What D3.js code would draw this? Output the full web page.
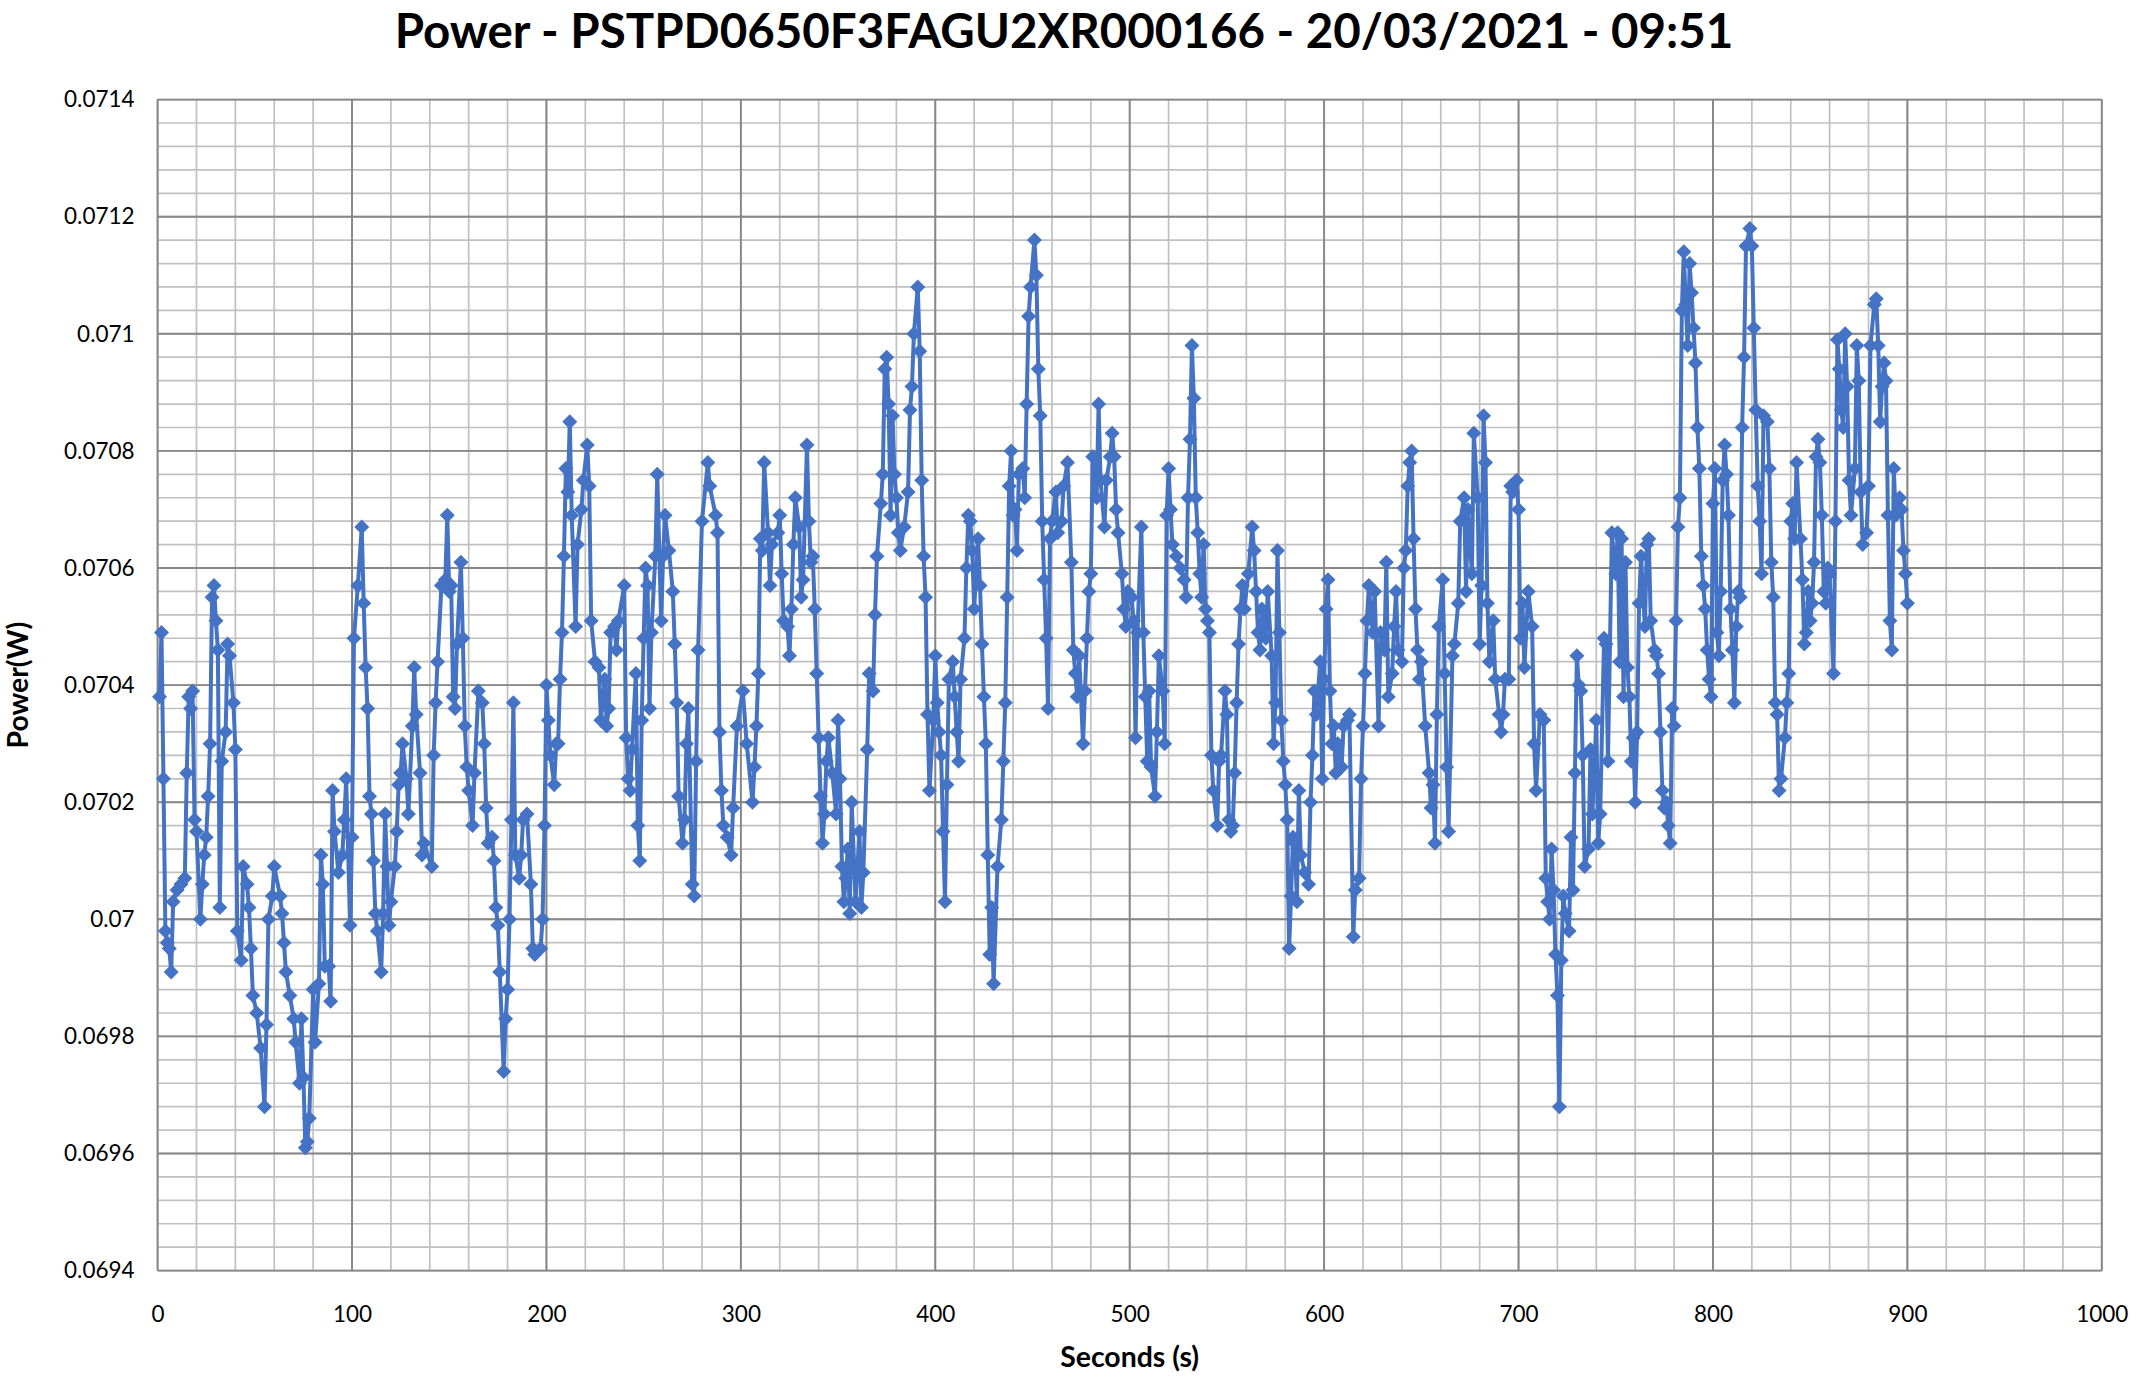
<!DOCTYPE html>
<html><head><meta charset="utf-8">
<script src="https://cdn.jsdelivr.net/npm/d3@7"></script>
<style>html,body{margin:0;padding:0;background:#fff}svg{display:block}</style>
</head><body>
<svg id="chart" width="2140" height="1377"></svg>
<script>
const chartTitle = "Power - PSTPD0650F3FAGU2XR000166 - 20/03/2021 - 09:51";
const xAxisTitle = "Seconds (s)";
const yAxisTitle = "Power(W)";
const xTickValues = [0,100,200,300,400,500,600,700,800,900,1000];
const yTickValues = [0.0694,0.0696,0.0698,0.07,0.0702,0.0704,0.0706,0.0708,0.071,0.0712,0.0714];

const seconds = [1,2,3,4,5,6,7,8,10,12,14,15,16,17,18,19,20,22,23,24,25,26,27,28,29,30,31,32,33,35,36,37,39,40,41,43,44,46,47,48,49,51,53,55,56,57,59,60,63,64,65,66,68,70,71,73,74,75,76,77,78,80,81,83,84,85,86,88,89,90,91,93,95,96,97,99,100,
101,103,105,106,107,108,109,110,111,112,113,115,116,117,118,119,120,122,123,124,125,126,128,129,131,132,133,135,136,137,141,142,143,144,146,148,149,150,151,152,153,154,156,157,158,159,160,162,163,165,167,168,169,170,172,173,174,175,176,178,179,180,181,182,183,184,186,187,188,190,192,193,194,197,198,199,200,
201,202,204,205,206,207,208,209,210,211,212,213,215,216,218,219,221,222,223,225,227,228,230,231,232,233,235,236,237,240,241,242,243,244,246,247,248,249,250,251,252,253,254,256,257,259,260,261,263,265,266,267,268,270,271,272,273,275,276,277,278,280,283,284,287,288,289,290,291,293,295,296,298,
301,303,306,307,308,309,310,311,312,314,315,316,319,320,321,322,324,325,326,327,328,330,331,332,334,335,336,337,338,339,340,341,342,343,344,345,347,349,350,351,352,353,354,355,356,357,359,361,362,363,365,366,368,369,370,372,373,374,375,376,377,378,379,380,381,382,384,386,387,388,389,391,392,393,394,395,396,397,399,400,
401,402,403,404,405,406,407,409,410,411,412,413,415,416,417,418,419,420,422,423,424,425,426,427,428,429,430,432,434,435,436,437,438,439,440,441,442,443,445,446,447,448,449,451,452,453,454,455,456,457,458,459,460,462,463,465,466,468,470,471,472,473,474,476,477,478,479,480,481,483,484,485,487,488,490,491,492,493,494,496,497,498,499,
501,502,503,504,506,507,508,509,510,511,513,514,515,517,518,519,520,521,522,524,526,528,529,530,531,532,533,534,535,536,537,538,539,540,541,542,543,545,546,547,549,550,551,552,553,554,555,556,557,558,559,561,563,564,565,566,567,568,570,571,573,574,575,576,577,578,579,580,581,582,583,584,585,586,587,588,590,592,593,594,595,596,598,599,600,
601,602,603,604,605,606,607,609,610,612,613,615,616,618,619,620,621,622,623,625,626,628,629,631,632,633,635,636,637,638,640,641,642,643,644,645,646,647,648,649,650,652,654,655,656,657,658,659,661,662,663,664,666,667,669,670,672,673,674,676,677,679,680,681,682,683,684,685,687,688,690,691,692,693,695,696,697,699,700,
701,702,703,705,707,708,709,711,713,714,715,716,717,718,719,720,721,722,723,724,726,727,728,729,730,731,732,733,734,736,737,738,740,741,742,744,745,746,748,750,751,752,753,754,755,756,757,758,759,760,761,762,763,765,766,767,768,770,771,772,773,774,775,776,777,778,779,780,781,782,783,784,785,786,787,788,789,790,791,792,793,794,795,796,797,798,799,800,
801,802,803,804,805,806,807,808,809,810,811,812,813,814,815,816,817,819,820,821,822,823,824,825,826,828,829,830,831,832,833,834,835,837,838,839,840,841,842,843,845,846,847,848,849,850,851,852,853,854,855,856,857,858,859,860,862,863,864,865,866,867,868,869,870,871,873,874,875,876,877,879,880,881,883,884,885,886,887,888,889,890,891,892,893,894,896,897,898,899,900];

const power = [0.07038,0.07049,0.07024,0.06998,0.06996,0.06995,0.06991,0.07003,0.07005,0.07006,0.07007,0.07025,0.07038,0.07036,0.07039,0.07017,0.07015,0.07000,0.07006,0.07011,0.07014,0.07021,0.07030,0.07055,0.07057,0.07051,0.07046,0.07002,0.07027,0.07032,0.07047,0.07045,0.07037,0.07029,0.06998,0.06993,0.07009,0.07006,0.07002,0.06995,0.06987,0.06984,0.06978,0.06968,0.06982,0.07000,0.07004,0.07009,0.07004,0.07001,0.06996,0.06991,0.06987,0.06983,0.06979,0.06972,0.06983,0.06973,0.06961,0.06962,0.06966,0.06988,0.06979,0.06989,0.07011,0.07006,0.06992,0.06992,0.06986,0.07022,0.07015,0.07008,0.07011,0.07017,0.07024,0.06999,0.07014,
0.07048,0.07057,0.07067,0.07054,0.07043,0.07036,0.07021,0.07018,0.07010,0.07001,0.06998,0.06991,0.07001,0.07018,0.07009,0.06999,0.07003,0.07009,0.07015,0.07023,0.07025,0.07030,0.07024,0.07018,0.07033,0.07043,0.07035,0.07025,0.07011,0.07013,0.07009,0.07028,0.07037,0.07044,0.07057,0.07058,0.07069,0.07056,0.07057,0.07038,0.07036,0.07047,0.07061,0.07048,0.07033,0.07026,0.07022,0.07016,0.07025,0.07039,0.07037,0.07030,0.07019,0.07013,0.07014,0.07010,0.07002,0.06999,0.06991,0.06974,0.06983,0.06988,0.07000,0.07017,0.07037,0.07011,0.07007,0.07011,0.07017,0.07018,0.07006,0.06995,0.06994,0.06995,0.07000,0.07016,0.07040,
0.07034,0.07028,0.07023,0.07030,0.07030,0.07041,0.07049,0.07062,0.07077,0.07073,0.07085,0.07069,0.07050,0.07064,0.07070,0.07075,0.07081,0.07074,0.07051,0.07044,0.07043,0.07034,0.07041,0.07033,0.07036,0.07049,0.07050,0.07046,0.07051,0.07057,0.07031,0.07024,0.07022,0.07029,0.07042,0.07016,0.07010,0.07034,0.07048,0.07060,0.07057,0.07036,0.07049,0.07062,0.07076,0.07051,0.07062,0.07069,0.07063,0.07056,0.07047,0.07037,0.07021,0.07013,0.07017,0.07030,0.07036,0.07006,0.07004,0.07027,0.07046,0.07068,0.07078,0.07074,0.07069,0.07066,0.07032,0.07022,0.07016,0.07014,0.07011,0.07019,0.07033,
0.07039,0.07030,0.07020,0.07026,0.07033,0.07042,0.07065,0.07063,0.07078,0.07066,0.07057,0.07064,0.07066,0.07069,0.07059,0.07051,0.07050,0.07045,0.07053,0.07064,0.07072,0.07067,0.07055,0.07058,0.07081,0.07068,0.07061,0.07062,0.07053,0.07042,0.07031,0.07021,0.07013,0.07018,0.07027,0.07031,0.07025,0.07018,0.07034,0.07024,0.07009,0.07003,0.07007,0.07012,0.07001,0.07020,0.07003,0.07015,0.07002,0.07008,0.07029,0.07042,0.07039,0.07052,0.07062,0.07071,0.07076,0.07094,0.07096,0.07088,0.07069,0.07086,0.07076,0.07072,0.07066,0.07063,0.07067,0.07073,0.07087,0.07091,0.07100,0.07108,0.07097,0.07075,0.07062,0.07055,0.07035,0.07022,0.07034,0.07045,
0.07037,0.07032,0.07028,0.07015,0.07003,0.07023,0.07041,0.07044,0.07038,0.07032,0.07027,0.07041,0.07048,0.07060,0.07069,0.07068,0.07063,0.07053,0.07065,0.07057,0.07047,0.07038,0.07030,0.07011,0.06994,0.07002,0.06989,0.07009,0.07017,0.07027,0.07037,0.07055,0.07074,0.07080,0.07069,0.07070,0.07063,0.07076,0.07077,0.07072,0.07088,0.07103,0.07108,0.07116,0.07110,0.07094,0.07086,0.07068,0.07058,0.07048,0.07036,0.07065,0.07068,0.07073,0.07066,0.07068,0.07074,0.07078,0.07061,0.07046,0.07042,0.07038,0.07045,0.07030,0.07039,0.07048,0.07056,0.07059,0.07079,0.07072,0.07088,0.07075,0.07067,0.07075,0.07079,0.07083,0.07079,0.07070,0.07066,0.07059,0.07053,0.07050,0.07056,
0.07055,0.07051,0.07031,0.07049,0.07067,0.07049,0.07038,0.07027,0.07039,0.07026,0.07021,0.07032,0.07045,0.07039,0.07030,0.07069,0.07077,0.07070,0.07064,0.07062,0.07060,0.07058,0.07055,0.07072,0.07082,0.07098,0.07089,0.07072,0.07066,0.07059,0.07055,0.07064,0.07053,0.07051,0.07049,0.07028,0.07022,0.07016,0.07027,0.07028,0.07039,0.07035,0.07017,0.07015,0.07016,0.07025,0.07037,0.07047,0.07053,0.07057,0.07053,0.07059,0.07067,0.07063,0.07056,0.07049,0.07046,0.07053,0.07048,0.07056,0.07045,0.07030,0.07037,0.07063,0.07049,0.07034,0.07027,0.07023,0.07017,0.06995,0.07004,0.07014,0.07013,0.07003,0.07022,0.07011,0.07008,0.07006,0.07020,0.07028,0.07039,0.07035,0.07044,0.07024,0.07041,
0.07053,0.07058,0.07039,0.07030,0.07033,0.07025,0.07030,0.07026,0.07033,0.07034,0.07035,0.06997,0.07005,0.07007,0.07024,0.07033,0.07042,0.07051,0.07057,0.07049,0.07056,0.07033,0.07049,0.07046,0.07061,0.07038,0.07042,0.07050,0.07056,0.07046,0.07044,0.07060,0.07063,0.07074,0.07078,0.07080,0.07065,0.07053,0.07046,0.07041,0.07044,0.07033,0.07025,0.07019,0.07023,0.07013,0.07035,0.07050,0.07058,0.07042,0.07026,0.07015,0.07045,0.07047,0.07054,0.07068,0.07072,0.07056,0.07070,0.07059,0.07083,0.07072,0.07047,0.07057,0.07086,0.07078,0.07054,0.07044,0.07051,0.07041,0.07035,0.07032,0.07035,0.07041,0.07041,0.07074,0.07073,0.07075,0.07070,
0.07048,0.07054,0.07043,0.07056,0.07050,0.07030,0.07022,0.07035,0.07034,0.07007,0.07003,0.07000,0.07012,0.07005,0.06994,0.06987,0.06968,0.06993,0.07004,0.07001,0.06998,0.07014,0.07005,0.07025,0.07045,0.07040,0.07039,0.07028,0.07009,0.07012,0.07029,0.07018,0.07034,0.07013,0.07018,0.07048,0.07047,0.07027,0.07066,0.07059,0.07066,0.07044,0.07065,0.07038,0.07061,0.07043,0.07038,0.07027,0.07031,0.07020,0.07032,0.07054,0.07062,0.07050,0.07064,0.07065,0.07051,0.07046,0.07045,0.07042,0.07032,0.07022,0.07019,0.07020,0.07016,0.07013,0.07036,0.07033,0.07051,0.07067,0.07072,0.07104,0.07114,0.07105,0.07098,0.07112,0.07107,0.07101,0.07095,0.07084,0.07077,0.07062,0.07057,0.07053,0.07046,0.07041,0.07038,0.07071,
0.07077,0.07049,0.07045,0.07056,0.07075,0.07081,0.07076,0.07069,0.07053,0.07046,0.07037,0.07050,0.07056,0.07055,0.07084,0.07096,0.07115,0.07118,0.07115,0.07101,0.07087,0.07074,0.07068,0.07059,0.07086,0.07085,0.07077,0.07061,0.07055,0.07037,0.07035,0.07022,0.07024,0.07031,0.07037,0.07042,0.07068,0.07071,0.07065,0.07078,0.07065,0.07058,0.07047,0.07049,0.07056,0.07051,0.07054,0.07061,0.07079,0.07082,0.07078,0.07069,0.07056,0.07054,0.07060,0.07059,0.07042,0.07068,0.07099,0.07094,0.07087,0.07084,0.07100,0.07091,0.07075,0.07069,0.07077,0.07098,0.07092,0.07073,0.07064,0.07066,0.07074,0.07098,0.07105,0.07106,0.07098,0.07085,0.07091,0.07095,0.07092,0.07069,0.07051,0.07046,0.07077,0.07069,0.07072,0.07070,0.07063,0.07059,0.07054];

const data = seconds.map((s, i) => ({s, p: power[i]})).filter(d => d.p !== undefined);

const W = 2140, H = 1377;
const plot = {left: 157.6, right: 2101.8, top: 99.6, bottom: 1270.6};
const font = "Lato, 'Open Sans', sans-serif";
const svg = d3.select("#chart");
svg.append("rect").attr("width", W).attr("height", H).attr("fill", "#fff");

const x = d3.scaleLinear().domain([0, 1000]).range([plot.left, plot.right]);
const y = d3.scaleLinear().domain([0.0694, 0.0714]).range([plot.bottom, plot.top]);

// minor gridlines
const xMinor = d3.range(0, 1001, 20);
const yMinor = d3.range(0, 51).map(i => 0.0694 + i * 0.00004);
const grid = svg.append("g");
grid.selectAll(".xm").data(xMinor).join("line")
  .attr("x1", d => x(d)).attr("x2", d => x(d))
  .attr("y1", plot.top).attr("y2", plot.bottom)
  .attr("stroke", "#c0c0c0").attr("stroke-width", 1.7);
grid.selectAll(".ym").data(yMinor).join("line")
  .attr("y1", d => y(d)).attr("y2", d => y(d))
  .attr("x1", plot.left).attr("x2", plot.right)
  .attr("stroke", "#c0c0c0").attr("stroke-width", 1.7);
// major gridlines
grid.selectAll(".xM").data(xTickValues).join("line")
  .attr("x1", d => x(d)).attr("x2", d => x(d))
  .attr("y1", plot.top).attr("y2", plot.bottom)
  .attr("stroke", "#868686").attr("stroke-width", 1.9);
grid.selectAll(".yM").data(yTickValues).join("line")
  .attr("y1", d => y(d)).attr("y2", d => y(d))
  .attr("x1", plot.left).attr("x2", plot.right)
  .attr("stroke", "#868686").attr("stroke-width", 1.9);

// axes
const fmtY = d => String(+d.toFixed(4));
const fmtX = d => String(d);
const yAxis = svg.append("g").attr("transform", `translate(${plot.left},0)`)
  .call(d3.axisLeft(y).tickValues(yTickValues).tickFormat(fmtY).tickSize(0).tickPadding(23));
const xAxis = svg.append("g").attr("transform", `translate(0,${plot.bottom})`)
  .call(d3.axisBottom(x).tickValues(xTickValues).tickFormat(fmtX).tickSize(0).tickPadding(35));
[yAxis, xAxis].forEach(a => {
  a.select(".domain").remove();
  a.selectAll("text").attr("font-family", font).attr("font-size", 22.5).attr("fill", "#000");
});

// series
const color = "#4472C4";
svg.append("path").datum(data)
  .attr("d", d3.line().x(d => x(d.s)).y(d => y(d.p)))
  .attr("fill", "none").attr("stroke", color).attr("stroke-width", 4)
  .attr("stroke-linejoin", "round");
const h = 7.5;
svg.append("g").selectAll("path").data(data).join("path")
  .attr("transform", d => `translate(${x(d.s)},${y(d.p)})`)
  .attr("d", `M0,${-h}L${h},0L0,${h}L${-h},0Z`)
  .attr("fill", color);

// titles
function fit(sel, target) {
  const w = sel.node().getComputedTextLength();
  const fs = parseFloat(sel.attr("font-size"));
  const nfs = fs * target / w;
  sel.attr("font-size", nfs);
  return nfs;
}
const t = svg.append("text").attr("x", 1064).attr("y", 48)
  .attr("text-anchor", "middle").attr("font-family", font).attr("font-weight", "bold")
  .attr("font-size", 44).attr("fill", "#000").text(chartTitle);
fit(t, 1339);
const xt = svg.append("text").attr("x", (plot.left + plot.right) / 2).attr("y", 1367)
  .attr("text-anchor", "middle").attr("font-family", font).attr("font-weight", "bold")
  .attr("font-size", 24).attr("fill", "#000").text(xAxisTitle);
const axisFs = fit(xt, 139);
svg.append("text").attr("transform", `translate(28,${(plot.top + plot.bottom) / 2}) rotate(-90)`)
  .attr("text-anchor", "middle").attr("font-family", font).attr("font-weight", "bold")
  .attr("font-size", axisFs).attr("fill", "#000").text(yAxisTitle);
</script>
</body></html>
